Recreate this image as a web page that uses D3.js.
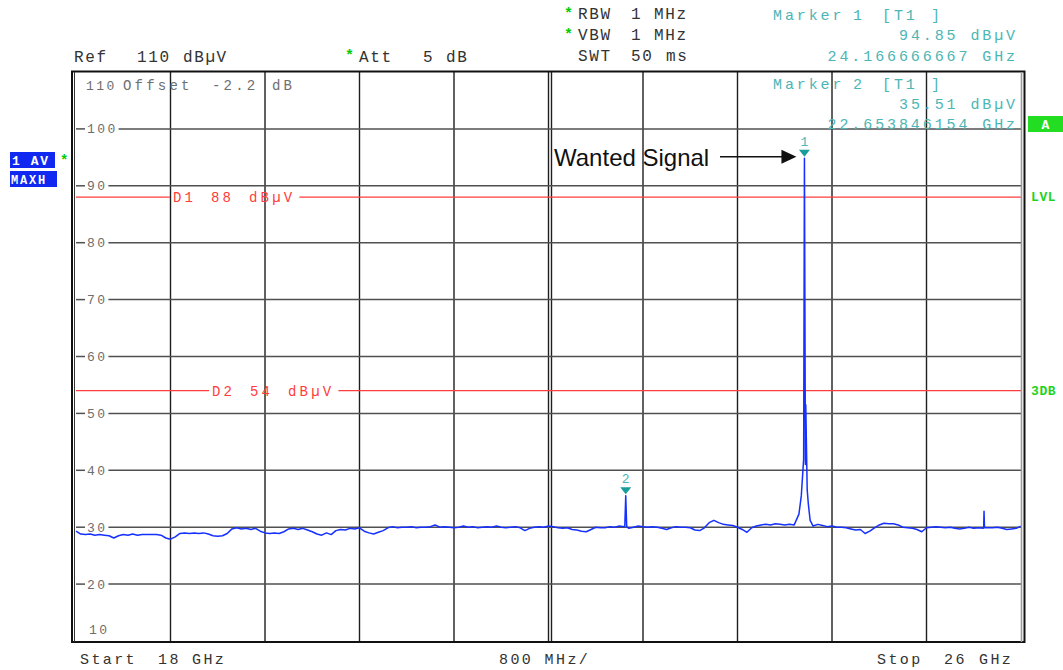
<!DOCTYPE html>
<html><head><meta charset="utf-8">
<script src="https://cdn.jsdelivr.net/npm/d3@7"></script>
<style>
html,body{margin:0;padding:0;background:#fff;}
svg{display:block;}
</style></head><body>
<svg id="chart" width="1063" height="670"></svg>
<script>
// ---- sweep settings ----
const sweepStartGHz = 18;
const sweepStopGHz = 26;
const sweepStepGHz = 0.04;
const refLevelDb = 110;
const bottomLevelDb = 10;

// trace (AV / MAXH) levels in dBµV on the 40 MHz sweep grid, 18 .. 26 GHz
const sweepLevels = [
  29.3, 28.8, 28.7, 28.8, 28.6, 28.7, 28.6, 28.5, 28.1, 28.5,
  28.7, 28.6, 28.8, 28.6, 28.7, 28.7, 28.7, 28.7, 28.6, 28.1,
  27.9, 28.3, 28.9, 29.0, 28.9, 29.0, 28.9, 29.0, 28.8, 28.5,
  28.4, 28.5, 28.9, 29.7, 29.9, 29.7, 29.8, 29.6, 29.8, 29.3,
  29.0, 28.9, 29.0, 28.9, 29.2, 29.7, 29.8, 29.6, 29.8, 29.5,
  29.2, 28.8, 28.6, 29.0, 28.7, 29.4, 29.6, 29.5, 29.8, 29.7,
  29.9, 29.3, 29.0, 28.8, 29.1, 29.4, 29.9, 30.1, 29.9, 30.0,
  30.0, 30.1, 29.9, 30.0, 30.0, 30.1, 30.4, 30.0, 30.1, 30.0,
  29.9, 30.0, 30.2, 30.0, 30.1, 29.9, 30.0, 30.1, 30.0, 30.2,
  30.0, 29.9, 30.0, 30.1, 29.9, 29.4, 29.8, 30.0, 30.1, 30.0,
  30.2, 30.1, 29.9, 29.8, 29.9, 29.6, 29.5, 29.3, 29.2, 29.6,
  30.0, 29.9, 29.9, 30.1, 30.0, 30.2, 30.1, 29.8, 30.0, 30.2,
  30.1, 30.0, 30.1, 30.0, 29.8, 29.6, 29.9, 30.1, 30.0, 30.0,
  29.9, 29.5, 29.4, 29.9, 30.8, 31.2, 30.8, 30.5, 30.4, 30.3,
  30.0, 29.6, 29.1, 29.9, 30.2, 30.4, 30.5, 30.4, 30.6, 30.5,
  30.4, 30.5, 30.4, 32.3, 42.0, 34.0, 30.2, 30.5, 30.3, 30.1,
  30.2, 30.0, 30.0, 29.9, 29.7, 29.5, 29.6, 28.9, 29.3, 29.9,
  30.4, 30.7, 30.6, 30.6, 30.4, 30.0, 29.9, 29.8, 29.6, 29.2,
  29.9, 30.0, 30.1, 30.0, 29.9, 30.0, 29.8, 29.7, 29.8, 30.0,
  29.8, 29.9, 29.8, 29.9, 29.9, 30.0, 29.8, 29.6, 29.7, 29.8,
  30.2
];

// extra trace samples around the narrow spurs (GHz, dBµV)
const spurFreqs  = [22.646, 22.662, 24.14, 24.175, 24.178, 24.19, 24.215, 25.684, 25.687, 25.691];
const spurLevels = [30.2,   30.1,   35.5,  41.0,   51.5,   36.6,  31.2,   29.9,   32.8,   29.9];

// markers
const markerNames  = ["1", "2"];
const markerFreqs  = [24.166666667, 22.653846154];
const markerLevels = [94.85, 35.51];

// display lines
const lineNames  = ["D1", "D2"];
const lineLevels = [88, 54];
const lineSideTags = ["LVL", "3DB"];

// y-axis grid labels
const yTickValues = [100, 90, 80, 70, 60, 50, 40, 30, 20];

// ---- layout ----
const plotL = 76, plotR = 1021, plotT = 72, plotB = 641;
const MONO = '"Liberation Mono","DejaVu Sans Mono",monospace';
const SANS = '"Liberation Sans",Arial,sans-serif';

const svg = d3.select("#chart");
const x = d3.scaleLinear().domain([sweepStartGHz, sweepStopGHz]).range([plotL, plotR]);
const y = d3.scaleLinear().domain([bottomLevelDb, refLevelDb]).range([plotB, plotT]);

function txt(g, px, py, s, o = {}) {
  return g.append("text")
    .attr("x", px).attr("y", py)
    .attr("font-family", o.family || MONO)
    .attr("font-size", o.size || 13)
    .attr("font-weight", o.weight || "normal")
    .attr("letter-spacing", o.ls != null ? o.ls : 0)
    .attr("text-anchor", o.anchor || "start")
    .attr("fill", o.fill || "#333")
    .style("white-space", "pre")
    .text(s);
}

// ---- grid ----
const grid = svg.append("g");
const span = sweepStopGHz - sweepStartGHz;
const vTicks = d3.range(1, 10).map(i => sweepStartGHz + i * span / 10);
grid.selectAll("line.v").data(vTicks).join("line")
  .attr("x1", d => x(d)).attr("x2", d => x(d))
  .attr("y1", plotT).attr("y2", plotB)
  .attr("stroke", "#1e1e1e").attr("stroke-width", 1.4);
// centre frequency double line
grid.append("line")
  .attr("x1", x(sweepStartGHz + span / 2) + 3).attr("x2", x(sweepStartGHz + span / 2) + 3)
  .attr("y1", plotT).attr("y2", plotB)
  .attr("stroke", "#1e1e1e").attr("stroke-width", 1.4);

// horizontal grid with inline labels
const YL = { size: 13, fill: "#6e6e6e", ls: 2.4 };
yTickValues.forEach(v => {
  const yy = y(v);
  const t = txt(grid, 87, yy + 4.5, String(v), YL);
  const w = t.node().getComputedTextLength();
  grid.append("line").attr("x1", plotL).attr("x2", 85).attr("y1", yy).attr("y2", yy)
    .attr("stroke", "#505050").attr("stroke-width", 1.5);
  grid.append("line").attr("x1", 87 + w + 1).attr("x2", plotR).attr("y1", yy).attr("y2", yy)
    .attr("stroke", "#505050").attr("stroke-width", 1.5);
});
txt(grid, 89, 633.5, String(bottomLevelDb), YL);

// reference / offset line of text
const OF = { size: 14, fill: "#6e6e6e", ls: 3.2 };
txt(grid, 86, 89.5, String(refLevelDb), YL);
txt(grid, 123, 89.5, "Offset", OF);
txt(grid, 212, 89.5, "-2.2", OF);
txt(grid, 272, 89.5, "dB", OF);

// ---- display lines ----
const dl = svg.append("g");
const dlLabelX = { D1: 173, D2: 212 };
const DL = { size: 14, fill: "#ff3c3c", ls: 3.2 };
lineNames.forEach((name, i) => {
  const yy = y(lineLevels[i]);
  const lx = dlLabelX[name];
  const tokens = [name, String(lineLevels[i]), "dBµV"];
  let end = lx;
  tokens.forEach((tk, j) => {
    const t = txt(dl, lx + j * 38, yy + 5, tk, DL);
    end = lx + j * 38 + t.node().getComputedTextLength();
  });
  dl.append("line").attr("x1", plotL).attr("x2", lx - 3).attr("y1", yy).attr("y2", yy)
    .attr("stroke", "#ff3c3c").attr("stroke-width", 1.3);
  dl.append("line").attr("x1", end + 4).attr("x2", plotR).attr("y1", yy).attr("y2", yy)
    .attr("stroke", "#ff3c3c").attr("stroke-width", 1.3);
  txt(svg, 1031, yy + 4, lineSideTags[i], { size: 13, weight: "bold", fill: "#1ed21e", ls: 0.6 });
});

// ---- trace ----
const pts = sweepLevels.map((v, k) => ({ f: sweepStartGHz + k * sweepStepGHz, v }))
  .concat(spurFreqs.map((f, i) => ({ f, v: spurLevels[i] })))
  .concat(markerFreqs.map((f, i) => ({ f, v: markerLevels[i] })))
  .sort((a, b) => a.f - b.f);
svg.append("path")
  .datum(pts)
  .attr("fill", "none")
  .attr("stroke", "#1530ff")
  .attr("stroke-width", 1.5)
  .attr("stroke-linejoin", "round")
  .attr("d", d3.line().x(d => x(d.f)).y(d => y(d.v)));

// ---- markers ----
const mk = svg.append("g");
markerNames.forEach((n, i) => {
  const mx = x(markerFreqs[i]), my = y(markerLevels[i]);
  mk.append("path")
    .attr("d", `M${mx - 5.5},${my - 8.5} L${mx + 5.5},${my - 8.5} L${mx},${my - 1.5} Z`)
    .attr("fill", "#1a9c9c");
  txt(mk, mx, my - 12.5, n, { size: 13, fill: "#4cb5b5", anchor: "middle" });
});

// ---- frame ----
const fr = svg.append("g");
fr.append("rect").attr("x", 72).attr("y", 71.5).attr("width", 952.5).attr("height", 570.5)
  .attr("fill", "none").attr("stroke", "#111").attr("stroke-width", 2);
fr.append("line").attr("x1", 74.5).attr("x2", 74.5).attr("y1", 72).attr("y2", 642)
  .attr("stroke", "#333").attr("stroke-width", 1);
fr.append("line").attr("x1", 1021.5).attr("x2", 1021.5).attr("y1", 72).attr("y2", 642)
  .attr("stroke", "#9a9a9a").attr("stroke-width", 1.6);

// ---- header ----
const hd = svg.append("g");
const H = { size: 16, fill: "#333", ls: 1.6 };
const STAR = { size: 15, fill: "#00cc00", weight: "bold" };
txt(hd, 74, 61.5, "Ref", H);
txt(hd, 137, 61.5, String(refLevelDb), H);
txt(hd, 183, 61.5, "dBµV", H);
txt(hd, 345, 60, "*", STAR);
txt(hd, 359, 61.5, "Att", H);
txt(hd, 423, 61.5, "5", H);
txt(hd, 446, 61.5, "dB", H);
txt(hd, 564, 18, "*", STAR);
txt(hd, 578, 19, "RBW", H);
txt(hd, 631, 19, "1", H);
txt(hd, 654, 19, "MHz", H);
txt(hd, 564, 39, "*", STAR);
txt(hd, 578, 40, "VBW", H);
txt(hd, 631, 40, "1", H);
txt(hd, 654, 40, "MHz", H);
txt(hd, 578, 61, "SWT", H);
txt(hd, 631, 61, "50", H);
txt(hd, 666, 61, "ms", H);

// marker readouts
const M = { size: 15, fill: "#4cb5b5", ls: 2.9 };
const rowY = [[20, 40, 61], [88.5, 108.5, 128.5]];
markerNames.forEach((n, i) => {
  const [r0, r1, r2] = rowY[i];
  txt(hd, 773, r0, "Marker", M);
  txt(hd, 853, r0, n, M);
  txt(hd, 882, r0, "[T1", M);
  txt(hd, 931, r0, "]", M);
  txt(hd, 1018, r1, markerLevels[i].toFixed(2) + " dBµV", Object.assign({}, M, { anchor: "end" }));
  txt(hd, 1018, r2, markerFreqs[i].toFixed(9) + " GHz", Object.assign({}, M, { anchor: "end" }));
});

// trace info boxes
const bx = svg.append("g");
bx.append("rect").attr("x", 10).attr("y", 152).attr("width", 45).attr("height", 16).attr("fill", "#1028f0");
txt(bx, 12, 165, "1 AV", { size: 13, weight: "bold", fill: "#fff", ls: 1.6 });
txt(bx, 60, 164.5, "*", { size: 14, weight: "bold", fill: "#00cc00" });
bx.append("rect").attr("x", 10).attr("y", 171).attr("width", 47).attr("height", 16).attr("fill", "#1028f0");
txt(bx, 11, 183.5, "MAXH", { size: 12, weight: "bold", fill: "#fff", ls: 1.8 });
bx.append("rect").attr("x", 1028).attr("y", 116).attr("width", 35).attr("height", 16).attr("fill", "#22dd22");
txt(bx, 1045.5, 129, "A", { size: 13, weight: "bold", fill: "#fff", anchor: "middle" });

// footer
const ft = svg.append("g");
const F = { size: 15, fill: "#333", ls: 2.4 };
txt(ft, 80, 663.5, "Start", F);
txt(ft, 158, 663.5, String(sweepStartGHz), F);
txt(ft, 192, 663.5, "GHz", F);
txt(ft, 499, 663.5, (span / 10 * 1000) + " MHz/", F);
txt(ft, 877, 663.5, "Stop", F);
txt(ft, 944, 663.5, String(sweepStopGHz), F);
txt(ft, 979, 663.5, "GHz", F);

// annotation for the carrier
const an = svg.append("g");
const m1x = x(markerFreqs[0]), m1y = y(markerLevels[0]);
txt(an, 554, 166, "Wanted Signal", { family: SANS, size: 24, fill: "#111" });
an.append("line").attr("x1", 720).attr("x2", m1x - 20).attr("y1", m1y - 1.5).attr("y2", m1y - 1.5)
  .attr("stroke", "#111").attr("stroke-width", 1.6);
an.append("path")
  .attr("d", `M${m1x - 23},${m1y - 8.5} L${m1x - 8},${m1y - 1.5} L${m1x - 23},${m1y + 5.5} Z`)
  .attr("fill", "#111");
</script>
</body></html>
